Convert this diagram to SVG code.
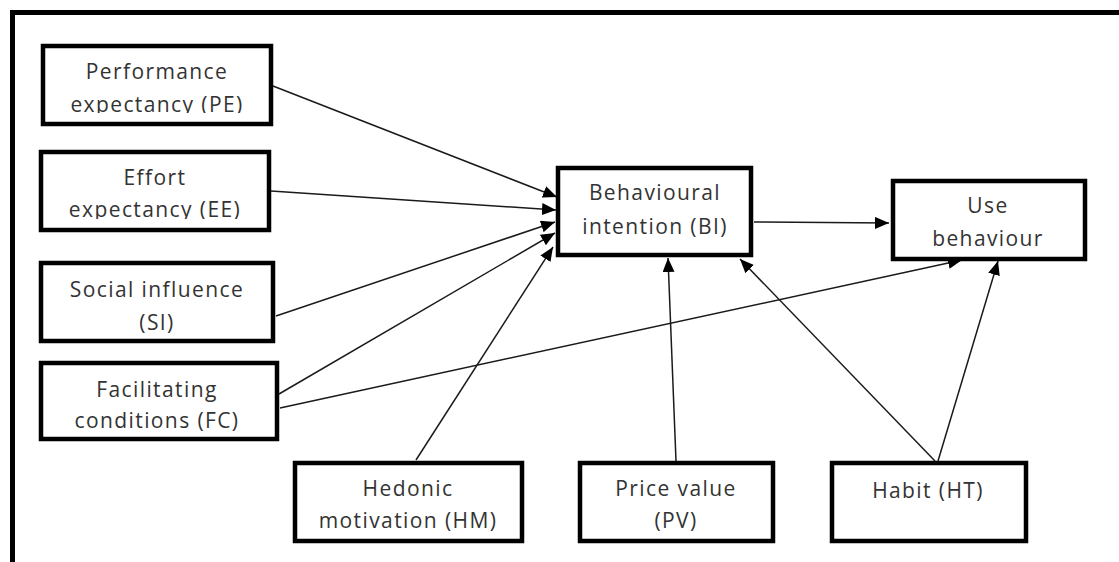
<svg xmlns="http://www.w3.org/2000/svg" width="1119" height="562" viewBox="0 0 1119 562">
  <defs>
    <style>
      .box { fill: #ffffff; stroke: #000000; stroke-width: 4.5; }
      .lbl { font-family: "Open Sans", "Noto Sans", sans-serif; font-size: 21px; fill: #333333; text-anchor: middle; letter-spacing: 1.4px; }
      .con { stroke: #1a1a1a; stroke-width: 1.5; fill: none; marker-end: url(#arr); }
      .frame { stroke: #000000; stroke-width: 5; fill: none; }
    </style>
    <marker id="arr" markerUnits="userSpaceOnUse" markerWidth="14" markerHeight="12" viewBox="0 0 14 12" refX="14" refY="6" orient="auto">
      <path d="M0,0 L14,6 L0,12 Z" fill="#000000"/>
    </marker>
    <clipPath id="clipPE"><rect x="43" y="46" width="228" height="67"/></clipPath>
    <clipPath id="clipEE"><rect x="41" y="152" width="228" height="67"/></clipPath>
  </defs>

  <path class="frame" d="M12.5,562 V12.5 H1119"/>

  <g id="connectors">
    <line class="con" x1="273" y1="86" x2="557" y2="197"/>
    <line class="con" x1="271" y1="191" x2="556" y2="210"/>
    <line class="con" x1="276" y1="316" x2="555" y2="222"/>
    <line class="con" x1="279" y1="394" x2="555" y2="233"/>
    <line class="con" x1="416" y1="460" x2="553" y2="247"/>
    <line class="con" x1="280" y1="408" x2="962" y2="260"/>
    <line class="con" x1="676" y1="461" x2="668" y2="258"/>
    <line class="con" x1="935" y1="461" x2="740" y2="259"/>
    <line class="con" x1="938" y1="461" x2="998" y2="261"/>
    <line class="con" x1="754" y1="222" x2="889" y2="223"/>
  </g>

  <g id="PE">
    <rect class="box" x="43" y="46" width="228" height="78"/>
    <g clip-path="url(#clipPE)">
      <text class="lbl" x="157" y="79">Performance</text>
      <text class="lbl" x="157" y="112">expectancy (PE)</text>
    </g>
  </g>
  <g id="EE">
    <rect class="box" x="41" y="152" width="228" height="78"/>
    <g clip-path="url(#clipEE)">
      <text class="lbl" x="155" y="185">Effort</text>
      <text class="lbl" x="155" y="217">expectancy (EE)</text>
    </g>
  </g>
  <g id="SI">
    <rect class="box" x="41" y="263" width="232" height="78"/>
    <text class="lbl" x="157" y="297">Social influence</text>
    <text class="lbl" x="157" y="330">(SI)</text>
  </g>
  <g id="FC">
    <rect class="box" x="41" y="363" width="236" height="76"/>
    <text class="lbl" x="157" y="397">Facilitating</text>
    <text class="lbl" x="157" y="428">conditions (FC)</text>
  </g>
  <g id="BI">
    <rect class="box" x="558" y="168" width="193" height="87"/>
    <text class="lbl" x="655" y="200">Behavioural</text>
    <text class="lbl" x="655" y="234">intention (BI)</text>
  </g>
  <g id="UB">
    <rect class="box" x="893" y="181" width="192" height="78"/>
    <text class="lbl" x="988" y="213">Use</text>
    <text class="lbl" x="988" y="246">behaviour</text>
  </g>
  <g id="HM">
    <rect class="box" x="295" y="463" width="227" height="78"/>
    <text class="lbl" x="408" y="496">Hedonic</text>
    <text class="lbl" x="408" y="528">motivation (HM)</text>
  </g>
  <g id="PV">
    <rect class="box" x="580" y="463" width="193" height="78"/>
    <text class="lbl" x="676" y="496">Price value</text>
    <text class="lbl" x="676" y="528">(PV)</text>
  </g>
  <g id="HT">
    <rect class="box" x="832" y="463" width="194" height="78"/>
    <text class="lbl" x="928" y="498">Habit (HT)</text>
  </g>
</svg>
